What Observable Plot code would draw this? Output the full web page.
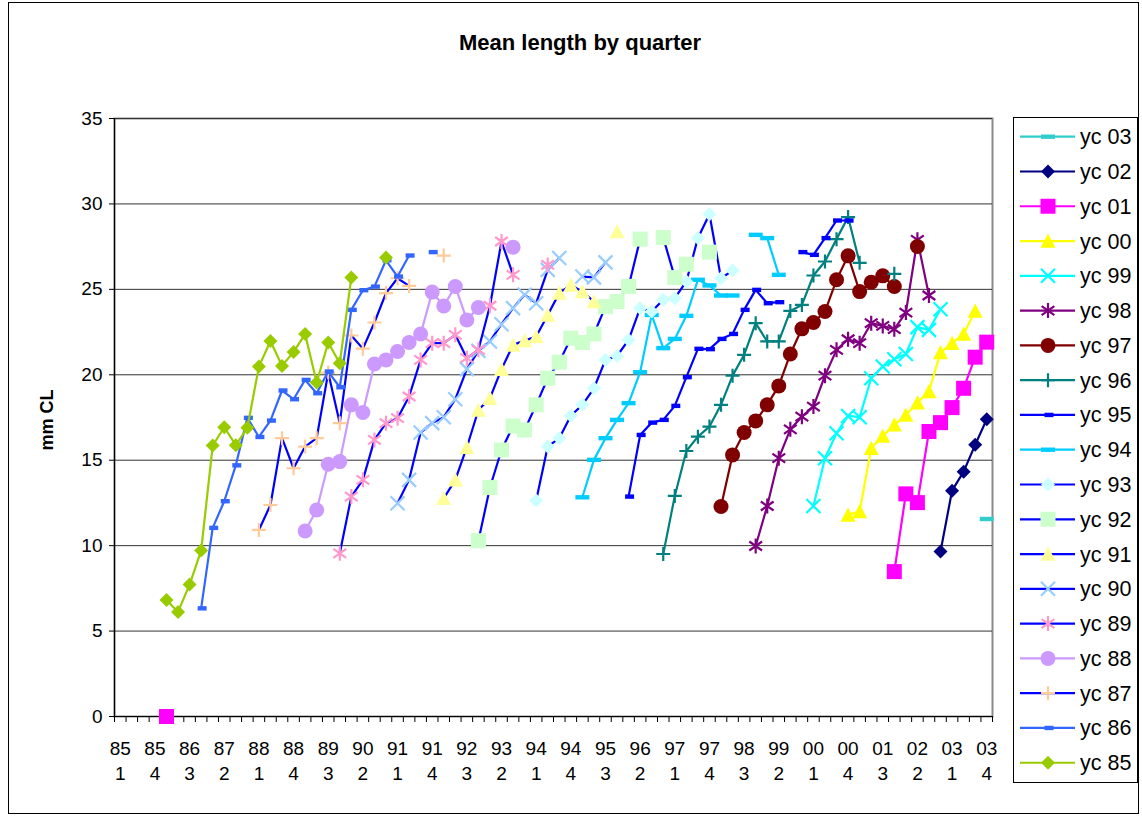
<!DOCTYPE html>
<html><head><meta charset="utf-8">
<script src="https://cdn.jsdelivr.net/npm/d3@7"></script>
<script src="https://cdn.jsdelivr.net/npm/@observablehq/plot@0.6"></script>
<style>
body{margin:0;background:#fff;font-family:"Liberation Sans",Arial,sans-serif;}
#wrap{position:relative;width:1142px;height:816px;overflow:hidden;background:#fff;}
#title{height:80px;box-sizing:border-box;padding-top:30px;width:1160px;text-align:center;font-weight:bold;font-size:22px;line-height:25px;color:#000;}
#ylab{position:absolute;left:47px;top:420px;transform:translate(-50%,-50%) rotate(-90deg);font-weight:bold;font-size:18px;white-space:nowrap;}
#legend{position:absolute;left:1013px;top:117px;}
#border{position:absolute;left:8px;top:2px;width:1131px;height:812px;border:1px solid #000;box-sizing:border-box;pointer-events:none;}
</style></head>
<body>
<div id="wrap">
  <div id="title">Mean length by quarter</div>
  <div id="chart"></div>
  <div id="ylab">mm CL</div>
  <div id="legend"></div>
  <div id="border"></div>
</div>
<script>
// ---- categories ----
const years = d3.range(1985, 2004).map(y => String(y % 100).padStart(2, "0"));
const quarterLabels = years.flatMap(y => [1, 2, 3, 4].map(q => `${y} ${q}`));
const labelEvery = 3;
const yTicks = [0, 5, 10, 15, 20, 25, 30, 35];

// ---- series (legend order) ----
const seriesNames = ["yc 03","yc 02","yc 01","yc 00","yc 99","yc 98","yc 97","yc 96","yc 95","yc 94","yc 93","yc 92","yc 91","yc 90","yc 89","yc 88","yc 87","yc 86","yc 85"];
const seriesStart = ["03 4","02 4","01 4","00 4","00 1","98 4","98 1","96 4","96 1","95 1","94 1","92 4","92 1","91 1","89 4","89 1","88 1","86 4","86 1"];

const yc03 = [11.56];
const yc02 = [9.65, 13.22, 14.33, 15.9, 17.4];
const yc01 = [8.48, 13.03, 12.52, 16.68, 17.2, 18.08, 19.21, 21.03, 21.91];
const yc00 = [11.8, 12.0, 15.7, 16.42, 17.07, 17.65, 18.37, 19.02, 21.3, 21.85, 22.39, 23.74];
const yc99 = [12.32, 15.12, 16.58, 17.59, 17.52, 19.8, 20.48, 20.91, 21.22, 22.79, 22.63, 23.84];
const yc98 = [9.98, 12.32, 15.12, 16.81, 17.55, 18.14, 19.95, 21.46, 22.08, 21.85, 23.02, 22.86, 22.67, 23.64, 27.9, 24.64];
const yc97 = [12.29, 15.31, 16.62, 17.3, 18.24, 19.35, 21.22, 22.69, 23.06, 23.7, 25.56, 26.96, 24.87, 25.42, 25.79, 25.17, null, 27.51];
const yc96 = [9.51, 12.91, 15.54, 16.38, 16.97, 18.24, 19.95, 21.17, 23.02, 21.95, 21.95, 23.74, 24.09, 25.81, 26.63, 27.94, 29.23, 26.55, null, null, 25.91];
const yc95 = [12.87, 16.48, 17.2, 17.36, 18.18, 19.86, 21.52, 21.5, 22.1, 22.39, 23.8, 24.97, 24.19, 24.25, null, 27.18, 27.02, 28.0, 29.03, 29.03];
const yc94 = [12.83, 15.02, 16.29, 17.36, 18.34, 20.15, 23.5, 21.56, 22.1, 23.45, 25.56, 25.23, 24.64, 24.64, null, 28.19, 28.0, 25.85];
const yc93 = [12.64, 15.8, 16.29, 17.6, 18.24, 19.21, 20.87, 21.1, 22.04, 23.9, 23.7, 24.39, 24.48, 25.46, 28.0, 29.4, 25.65, 26.1];
const yc92 = [10.29, 13.4, 15.6, 17.0, 16.77, 18.24, 19.8, 20.74, 22.14, 21.89, 22.39, 23.99, 24.29, 25.17, 27.94, null, 28.03, 25.69, 26.47, null, 27.18];
const yc91 = [12.77, 13.85, 15.76, 17.94, 18.63, 20.33, 21.75, 22.0, 22.24, 23.5, 24.78, 25.26, 24.87, 24.29, null, 28.38];
const yc90 = [12.48, 13.85, 16.62, 17.17, 17.52, 18.57, 20.33, 21.4, 21.95, 22.96, 23.9, 24.68, 24.19, 26.14, 26.83, null, 25.75, 25.7, 26.58];
const yc89 = [9.55, 12.87, 13.85, 16.19, 17.17, 17.46, 18.73, 20.87, 21.85, 21.85, 22.34, 20.97, 21.46, 24.04, 27.8, 25.85, null, null, 26.43];
const yc88 = [10.86, 12.09, 14.76, 14.92, 18.24, 17.79, 20.63, 20.87, 21.36, 21.89, 22.39, 24.84, 24.03, 25.17, 23.21, 23.94, null, null, 27.47];
const yc87 = [10.92, 12.38, 16.29, 14.53, 15.8, 16.29, 20.13, 17.17, 22.3, 21.53, 23.06, 24.78, 25.65, 25.2, null, null, 26.98];
const yc86 = [6.33, 11.04, 12.6, 14.7, 17.48, 16.36, 17.32, 19.08, 18.57, 19.7, 18.92, 20.19, 19.27, 23.8, 24.95, 25.16, 26.7, 25.75, 26.98, null, 27.18];
const yc85 = [6.82, 6.12, 7.72, 9.71, 15.86, 16.93, 15.88, 16.9, 20.48, 21.98, 20.52, 21.34, 22.38, 19.55, 21.89, 20.68, 25.69, null, null, 26.86];
const seriesValues = [yc03, yc02, yc01, yc00, yc99, yc98, yc97, yc96, yc95, yc94, yc93, yc92, yc91, yc90, yc89, yc88, yc87, yc86, yc85];

// isolated point of yc 01
const strayName = "yc 01", strayQuarter = "86 1", strayValue = 0;

// ---- styles ----
const lineColors = ["#33CCCC","#000080","#FF00FF","#FFFF00","#00FFFF","#800080","#800000","#008080","#0000FF","#00CCFF","#0000FF","#0000FF","#0000FF","#0000FF","#0000FF","#CC99FF","#0000FF","#3366FF","#99CC00"];
const markerColors = ["#33CCCC","#000080","#FF00FF","#FFFF00","#00FFFF","#800080","#800000","#008080","#0000FF","#00CCFF","#CCFFFF","#CCFFCC","#FFFF99","#99CCFF","#FF99CC","#CC99FF","#FFCC99","#3366FF","#99CC00"];
const markerShapes = ["dash","diamond","square","triangle","times","asterisk","circle","plus","dashS","dash","diamond","square","triangle","times","asterisk","circle","plus","dashS","diamond"];

const R = s => Math.sqrt(s / Math.PI);
const symbols = {
  diamond: {draw(c, s) { const r = R(s); c.moveTo(0, -r); c.lineTo(r, 0); c.lineTo(0, r); c.lineTo(-r, 0); c.closePath(); }},
  square: {draw(c, s) { const r = R(s); c.rect(-r, -r, 2 * r, 2 * r); }},
  triangle: {draw(c, s) { const r = R(s); c.moveTo(0, -r); c.lineTo(r, r * 0.9); c.lineTo(-r, r * 0.9); c.closePath(); }},
  circle: {draw(c, s) { const r = R(s); c.moveTo(r, 0); c.arc(0, 0, r, 0, 2 * Math.PI); c.closePath(); }},
  times: {draw(c, s) { const r = R(s); c.moveTo(-r, -r); c.lineTo(r, r); c.moveTo(-r, r); c.lineTo(r, -r); }},
  asterisk: {draw(c, s) { const r = R(s); const a = r * 0.85, b = r * 0.6; c.moveTo(0, -r); c.lineTo(0, r); c.moveTo(-a, -b); c.lineTo(a, b); c.moveTo(-a, b); c.lineTo(a, -b); }},
  plus: {draw(c, s) { const r = R(s); c.moveTo(-r, 0); c.lineTo(r, 0); c.moveTo(0, -r); c.lineTo(0, r); }},
  dash: {draw(c, s) { const r = R(s); c.rect(-r, -2.2, 2 * r, 4.4); }},
  dashS: {draw(c, s) { const r = R(s); c.rect(-r + 1, -2.2, 2 * r, 4.4); }}
};
const symbolSize = {diamond: 7, square: 7.5, triangle: 7.5, circle: 7.5, times: 7, asterisk: 7.5, plus: 7, dash: 7, dashS: 4.5};
const strokeSymbols = new Set(["times", "asterisk", "plus"]);

// ---- data table ----
const qIndex = q => quarterLabels.indexOf(q);
const tables = seriesNames.map((name, k) => {
  const s = qIndex(seriesStart[k]);
  const rows = seriesValues[k].map((v, j) => ({name, x: s + j + 0.5, y: v}));
  if (name === strayName) rows.unshift({name, x: qIndex(strayQuarter) + 0.5, y: strayValue}, {name, x: qIndex(strayQuarter) + 1.5, y: null});
  return rows;
});

const font = "'Liberation Sans', Arial, sans-serif";
const seriesMarks = seriesNames.flatMap((name, k) => {
  const shape = markerShapes[k];
  const isStroke = strokeSymbols.has(shape);
  const pts = tables[k].filter(d => d.y != null);
  return [
    Plot.line(tables[k], {x: "x", y: "y", stroke: lineColors[k], strokeWidth: 2.2}),
    Plot.dot(pts, {x: "x", y: "y", symbol: symbols[shape], r: symbolSize[shape],
      fill: isStroke ? "none" : markerColors[k], stroke: isStroke ? markerColors[k] : "none", strokeWidth: isStroke ? 2.2 : 0})
  ];
});

const labelTicks = d3.range(0, quarterLabels.length, labelEvery).map(i => i + 0.5);

const chart = Plot.plot({
  width: 1142, height: 736,
  marginLeft: 114, marginRight: 150, marginTop: 38, marginBottom: 100,
  style: {fontFamily: font, background: "transparent", overflow: "visible"},
  x: {type: "linear", domain: [0, quarterLabels.length]},
  y: {domain: [0, 35]},
  marks: [
    Plot.frame({stroke: "#8a8a8a", strokeWidth: 2}),
    Plot.gridY(yTicks.slice(1), {stroke: "#333", strokeOpacity: 1, strokeWidth: 1}),
    Plot.axisY(yTicks, {tickSize: 5, tickPadding: 7, fontSize: 19, label: null, stroke: "#000", fill: "#000"}),
    Plot.axisX(d3.range(0, quarterLabels.length + 1), {tickSize: 6, tickFormat: () => "", label: null, stroke: "#000"}),
    Plot.axisX(labelTicks, {tickSize: 0, tickPadding: 25, fontSize: 19, label: null, fill: "#000",
      tickFormat: d => quarterLabels[Math.floor(d)].split(" ")[0]}),
    Plot.axisX(labelTicks, {tickSize: 0, tickPadding: 50, fontSize: 19, label: null, fill: "#000",
      tickFormat: d => quarterLabels[Math.floor(d)].split(" ")[1]}),
    Plot.ruleX([0], {stroke: "#000", strokeWidth: 1.2}),
    Plot.ruleY([0], {stroke: "#000", strokeWidth: 1.2}),
    ...seriesMarks
  ]
});
document.getElementById("chart").appendChild(chart);

// ---- legend ----
const lw = 125, lh = 666, rowStep = 34.78, firstRow = 19.7;
const leg = d3.select("#legend").append("svg").attr("width", lw).attr("height", lh)
  .style("font-family", font);
leg.append("rect").attr("x", 0.5).attr("y", 0.5).attr("width", lw - 1).attr("height", lh - 1)
  .attr("fill", "#fff").attr("stroke", "#000");
seriesNames.forEach((name, k) => {
  const cy = firstRow + k * rowStep;
  const shape = markerShapes[k];
  const isStroke = strokeSymbols.has(shape);
  const g = leg.append("g");
  g.append("line").attr("x1", 7).attr("x2", 62).attr("y1", cy).attr("y2", cy)
    .attr("stroke", lineColors[k]).attr("stroke-width", 2.2);
  const sz = symbolSize[shape];
  g.append("path").attr("transform", `translate(35,${cy})`)
    .attr("d", d3.symbol(symbols[shape], sz * sz * Math.PI)())
    .attr("fill", isStroke ? "none" : markerColors[k])
    .attr("stroke", isStroke ? markerColors[k] : "none").attr("stroke-width", isStroke ? 2.2 : 0);
  g.append("text").attr("x", 67).attr("y", cy + 7.5).attr("font-size", 21.5).attr("fill", "#000").text(name);
});
</script>
</body></html>
